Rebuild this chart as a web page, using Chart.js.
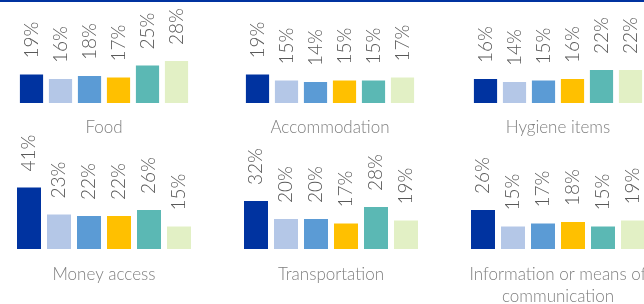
<!DOCTYPE html>
<html>
<head>
<meta charset="utf-8">
<script src="https://cdn.jsdelivr.net/npm/chart.js@4.4.0/dist/chart.umd.min.js"></script>
<style>
body{margin:0;width:644px;height:304px;overflow:hidden;background:#fff;position:relative;}
#topLine{position:absolute;left:0;top:0;width:644px;height:2px;background:#0033a0;}
canvas{position:absolute;}
</style>
</head>
<body>
<div id="topLine"></div>
<canvas id="c0" width="220" height="150" style="left:-6px;top:0px"></canvas>
<canvas id="c1" width="220" height="150" style="left:220px;top:0px"></canvas>
<canvas id="c2" width="220" height="150" style="left:448px;top:0px"></canvas>
<canvas id="c3" width="220" height="180" style="left:-6px;top:130px"></canvas>
<canvas id="c4" width="220" height="180" style="left:221px;top:130px"></canvas>
<canvas id="c5" width="220" height="180" style="left:448px;top:130px"></canvas>
<script>
// values in %, one bar per group
const categories=["Food","Accommodation","Hygiene items","Money access","Transportation",["Information or means of","communication"]];
const food=[19,16,18,17,25,28];
const accommodation=[19,15,14,15,15,17];
const hygiene=[16,14,15,16,22,22];
const money=[41,23,22,22,26,15];
const transport=[32,20,20,17,28,19];
const information=[26,15,17,18,15,19];
const barColors=["#0033a0","#b4c7e7","#5b9bd5","#ffc000","#5bb8b4","#e2f0c5"];

const allValues=[food,accommodation,hygiene,money,transport,information];
const labelGap=16;

const valueLabels={
    id:"valueLabels",
    afterDatasetsDraw(chart){
        const ctx=chart.ctx;
        const meta=chart.getDatasetMeta(0);
        ctx.save();
        ctx.fillStyle="#595959";
        ctx.font="300 19px Lato";
        ctx.textAlign="left";
        ctx.textBaseline="middle";
        meta.data.forEach((bar,i)=>{
            ctx.save();
            ctx.translate(bar.x,bar.y-labelGap);
            ctx.rotate(-Math.PI/2);
            ctx.fillText(chart.data.datasets[0].data[i]+"%",0,0);
            ctx.restore();
        });
        ctx.restore();
    }
};

allValues.forEach((values,index)=>{
    const row2=index>=3;
    const twoLines=Array.isArray(categories[index]);
    new Chart(document.getElementById("c"+index),{
        type:"bar",
        data:{
            labels:values.map((v,i)=>"g"+i),
            datasets:[{
                data:values,
                backgroundColor:barColors,
                categoryPercentage:1,
                barPercentage:0.8
            }]
        },
        options:{
            responsive:false,
            animation:false,
            layout:{padding:{top:row2?29:13,left:row2?20:23,right:row2?20:23,bottom:0}},
            scales:{
                x:{display:false},
                y:{display:false,min:0,max:60}
            },
            plugins:{
                legend:{display:false},
                tooltip:{enabled:false},
                title:{
                    display:true,
                    text:categories[index],
                    position:"bottom",
                    color:"#7f7f7f",
                    font:{family:"Lato",size:17,weight:"300",lineHeight:"22px"},
                    padding:{top:row2?15:14,bottom:row2?(twoLines?2:24):11}
                }
            }
        },
        plugins:[valueLabels]
    });
});
</script>
</body>
</html>
